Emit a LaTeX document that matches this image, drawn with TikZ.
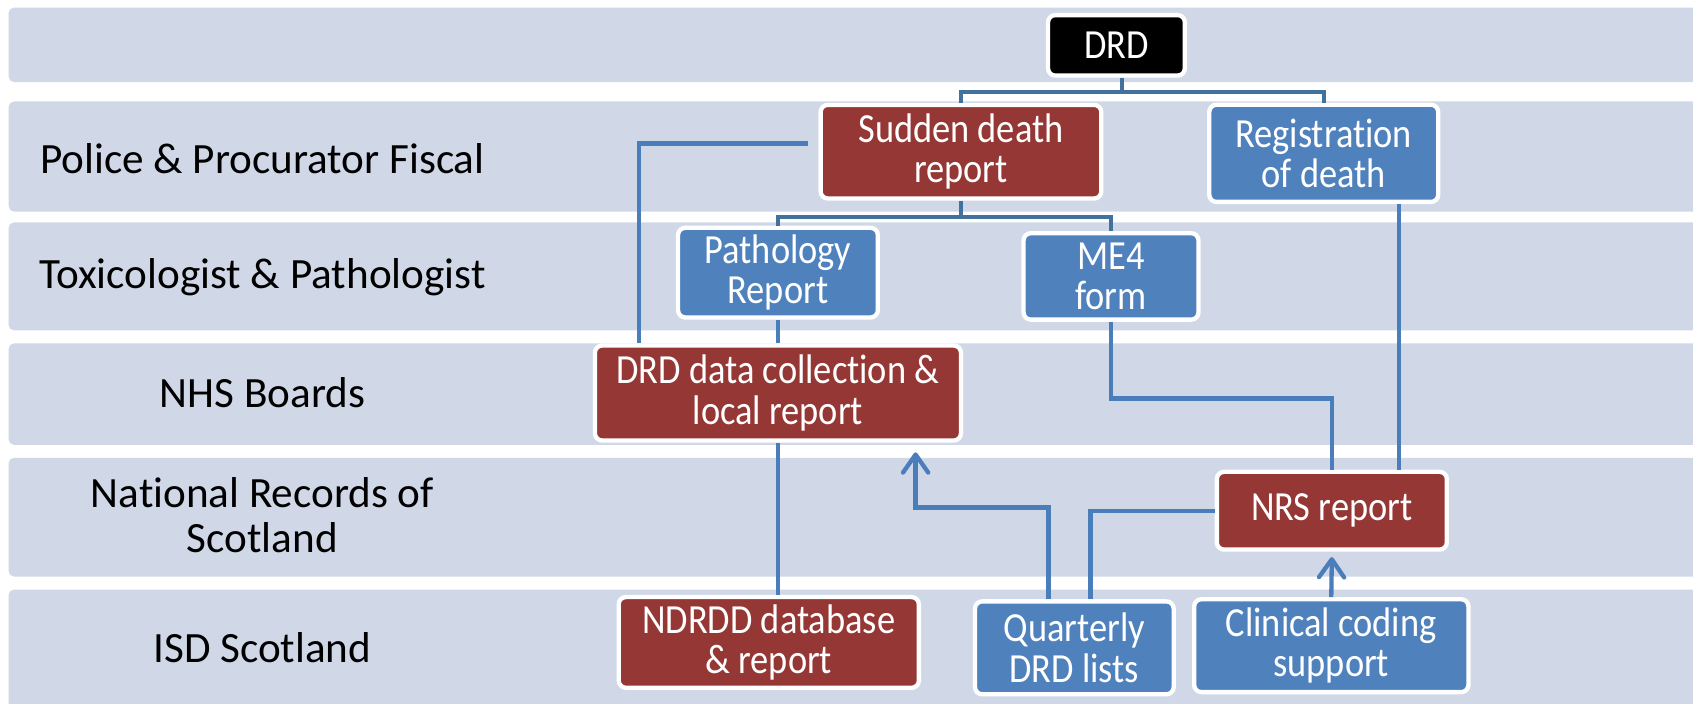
\documentclass[tikz,border=0pt]{standalone}
\usepackage{fontspec}
\setmainfont[Ligatures=NoCommon]{Carlito}
\newfontfamily\boxfont[FakeStretch=0.88,Ligatures=NoCommon]{Carlito}
\usetikzlibrary{arrows.meta}
\definecolor{bandgrey}{HTML}{D0D8E8}
\definecolor{drdred}{HTML}{953735}
\definecolor{drdblue}{HTML}{4F81BD}
\definecolor{lineblue}{HTML}{4A7EBB}
\definecolor{treeblue}{HTML}{41719C}
\tikzset{
  band/.style={fill=bandgrey, rounded corners=1.5pt},
  lane/.style={font=\fontsize{12}{12.5}\selectfont, align=center},
  box/.style={draw=white, line width=1.2pt, rounded corners=2pt, text=white,
    align=center, inner sep=0pt, font=\boxfont\fontsize{11.5}{11.2}\selectfont},
  redbox/.style={box, fill=drdred},
  bluebox/.style={box, fill=drdblue},
  blackbox/.style={box, fill=black},
  link/.style={draw=lineblue, line width=1.2pt},
  tree/.style={draw=treeblue, line width=1.2pt},
  arrow/.style={link, -{Straight Barb[length=5pt,width=7pt,round]}}
}
\begin{document}
\begin{tikzpicture}[x=0.3pt,y=-0.3pt]
\useasboundingbox (0,0) rectangle (1568,652);
% lanes
\fill[band] (8,7) rectangle (1600,76);
\fill[band] (8,94) rectangle (1600,196);
\fill[band] (8,206) rectangle (1600,306);
\fill[band] (8,318) rectangle (1600,412);
\fill[band] (8,424) rectangle (1600,534);
\fill[band] (8,546) rectangle (1600,680);
\node[lane] (police) at (243,147) {Police \& Procurator Fiscal};
\node[lane] (toxic) at (243,257) {Toxicologist \& Pathologist};
\node[lane] (nhs) at (243,364) {NHS Boards};
\node[lane] (nrslane) at (243,477) {National Records of\\Scotland};
\node[lane] (isd) at (243,600) {ISD Scotland};
% boxes
\node[blackbox, minimum width=38pt, minimum height=16.8pt] (drd) at (1034,42) {DRD};
\node[redbox, minimum width=78pt, minimum height=26pt] (sudden) at (890,140.5) {Sudden death\\report};
\node[bluebox, minimum width=63.6pt, minimum height=27pt] (reg) at (1226,142) {Registration\\of death};
\node[bluebox, minimum width=55.5pt, minimum height=24.9pt] (patho) at (720.5,252.5) {Pathology\\Report};
\node[bluebox, minimum width=48.6pt, minimum height=24pt] (me4) at (1029,256) {ME4\\form};
\node[redbox, minimum width=101.7pt, minimum height=26.4pt] (datacoll) at (720.5,364) {DRD data collection \&\\local report};
\node[redbox, minimum width=63.9pt, minimum height=21.6pt] (nrs) at (1233.5,473) {NRS report};
\node[redbox, minimum width=83.4pt, minimum height=25.2pt] (ndrdd) at (712,595) {NDRDD database\\\& report};
\node[bluebox, minimum width=55.2pt, minimum height=25.8pt] (quarterly) at (995,600) {Quarterly\\DRD lists};
\node[bluebox, minimum width=76.2pt, minimum height=25.8pt] (clinical) at (1233,598) {Clinical coding\\support};
% connectors
\draw[tree] ([xshift=1.5pt]drd.south) -- ++(0,13) coordinate (fork1);
\draw[tree] (sudden.north) |- (fork1) -| (reg.north);
\draw[tree] (sudden.south) -- ++(0,15) coordinate (fork2);
\draw[tree] (patho.north) |- (fork2) -| (me4.north);
\draw[link] ([shift={(-10,-7.5)}]sudden.west) -| ([xshift=12.9pt]datacoll.north west);
\draw[link] (patho.south) -- (datacoll.north);
\draw[link] (me4.south) -- ++(0,71) -| (nrs.north);
\draw[link] ([xshift=21pt]reg.south) -- ([xshift=21pt]reg.south |- nrs.north);
\draw[link] (datacoll.south) -- (datacoll.south |- ndrdd.north);
\draw[arrow] ([xshift=-7.2pt]quarterly.north) -- ++(0,-85) -| ([shift={(-44,9)}]datacoll.south east);
\draw[link] (nrs.west) -| ([xshift=4.5pt]quarterly.north);
\draw[arrow] (clinical.north) -- ([yshift=-1.5pt]nrs.south);
\end{tikzpicture}
\end{document}
